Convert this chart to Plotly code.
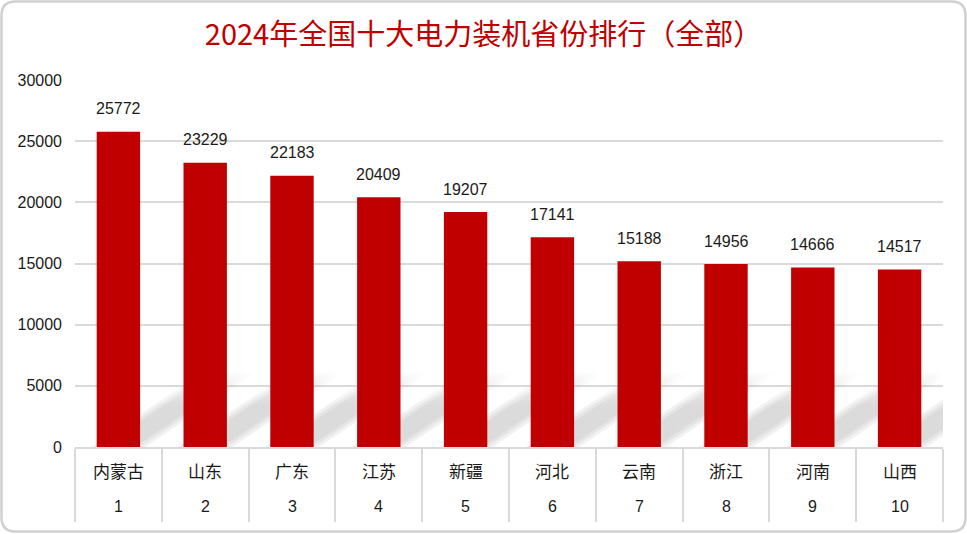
import plotly.graph_objects as go

# ---- data ----
provinces = ["内蒙古", "山东", "广东", "江苏", "新疆", "河北", "云南", "浙江", "河南", "山西"]
ranks = [1, 2, 3, 4, 5, 6, 7, 8, 9, 10]
capacity = [25772, 23229, 22183, 20409, 19207, 17141, 15188, 14956, 14666, 14517]
y_ticks = [0, 5000, 10000, 15000, 20000, 25000, 30000]
title_text = "2024年全国十大电力装机省份排行（全部）"

# ---- layout geometry (pixels) ----
W, H = 967, 534
L, R, T, B = 75, 24, 80, 87
PW, PH = W - L - R, H - T - B

def px_x(X):
    return (X - L) / PW

def px_y(Y):
    return (H - B - Y) / PH

RED = "#C00000"
GRID = "#D9D9D9"
TXT = "#1a1a1a"
NUM_FONT = "Liberation Sans, Arial, Noto Sans CJK SC"
CJK_FONT = "Noto Sans CJK SC, Liberation Sans"
XR = [0.5, 10.5]
YR = [0, 30000]

fig = go.Figure()

# soft diagonal shadows behind bars (derived from bar positions), on base axes
half = 0.25
sdx, sdy = 1.3, 6200
for r in ranks:
    for off in (-0.06, 0.0, 0.06):
        xs = [r - half + off, r + half + off, r + half + sdx + off,
              r - half + sdx + off, r - half + off]
        ys = [0, 0, sdy, sdy, 0]
        fig.add_trace(go.Scatter(
            x=xs, y=ys, mode="lines", line=dict(width=0), fill="toself",
            fillgradient=dict(type="vertical",
                              colorscale=[[0, "rgba(150,150,150,0.13)"],
                                          [0.55, "rgba(150,150,150,0.13)"],
                                          [1, "rgba(150,150,150,0.0)"]]),
            hoverinfo="skip", showlegend=False, xaxis="x", yaxis="y"))

# bars on overlaying axes so they sit above the shadows
fig.add_trace(go.Bar(
    x=ranks, y=capacity, width=0.5, marker=dict(color=RED, line=dict(width=0)),
    showlegend=False, hoverinfo="skip", xaxis="x2", yaxis="y2"))

annotations = []
for r, v in zip(ranks, capacity):
    annotations.append(dict(x=r, y=v, xref="x", yref="y", text=str(v),
                            showarrow=False, yanchor="middle", yshift=23,
                            font=dict(family=NUM_FONT, size=16, color=TXT)))
for r, name in zip(ranks, provinces):
    annotations.append(dict(x=r, y=px_y(470), xref="x", yref="paper", text=name,
                            showarrow=False, yanchor="middle",
                            font=dict(family=CJK_FONT, size=17, color=TXT)))
    annotations.append(dict(x=r, y=px_y(506), xref="x", yref="paper", text=str(r),
                            showarrow=False, yanchor="middle",
                            font=dict(family=NUM_FONT, size=16, color=TXT)))

# rounded outer border
x0, x1, y0, y1, rad = 1.5, 965.5, 1.5, 531.5, 14
def P(X, Y):
    return f"{px_x(X):.5f},{px_y(Y):.5f}"
path = (f"M {P(x0 + rad, y0)} L {P(x1 - rad, y0)} Q {P(x1, y0)} {P(x1, y0 + rad)} "
        f"L {P(x1, y1 - rad)} Q {P(x1, y1)} {P(x1 - rad, y1)} "
        f"L {P(x0 + rad, y1)} Q {P(x0, y1)} {P(x0, y1 - rad)} "
        f"L {P(x0, y0 + rad)} Q {P(x0, y0)} {P(x0 + rad, y0)} Z")
shapes = [dict(type="path", xref="paper", yref="paper", path=path,
               line=dict(color="#D0D0D0", width=2.5), layer="above")]

sep_vals = [r - 0.5 for r in ranks] + [ranks[-1] + 0.5]

fig.update_layout(
    width=W, height=H,
    margin=dict(l=L, r=R, t=T, b=B, pad=0),
    paper_bgcolor="white", plot_bgcolor="white",
    title=dict(text=title_text, x=0.5, xref="container", xanchor="center",
               y=1 - 35 / H, yref="container", yanchor="middle",
               font=dict(family=CJK_FONT, size=29, color=RED)),
    xaxis=dict(range=XR, tickvals=sep_vals, showticklabels=False,
               ticks="outside", ticklen=73, tickwidth=1.5, tickcolor=GRID,
               showgrid=False, zeroline=False, showline=True, linecolor=GRID,
               linewidth=1.5, fixedrange=True),
    yaxis=dict(range=YR, tickvals=y_ticks, tickformat="d", showgrid=True,
               gridcolor=GRID, gridwidth=1.5, zeroline=False, showline=False,
               ticks="", ticklabelstandoff=12,
               tickfont=dict(family=NUM_FONT, size=16, color=TXT), fixedrange=True),
    xaxis2=dict(range=XR, overlaying="x", visible=False, fixedrange=True),
    yaxis2=dict(range=YR, overlaying="y", visible=False, fixedrange=True),
    annotations=annotations, shapes=shapes,
    bargap=0.5,
)

fig.write_html("out.html", config={"displayModeBar": False},
               post_script="document.body.style.margin='0';document.body.style.padding='0';")
